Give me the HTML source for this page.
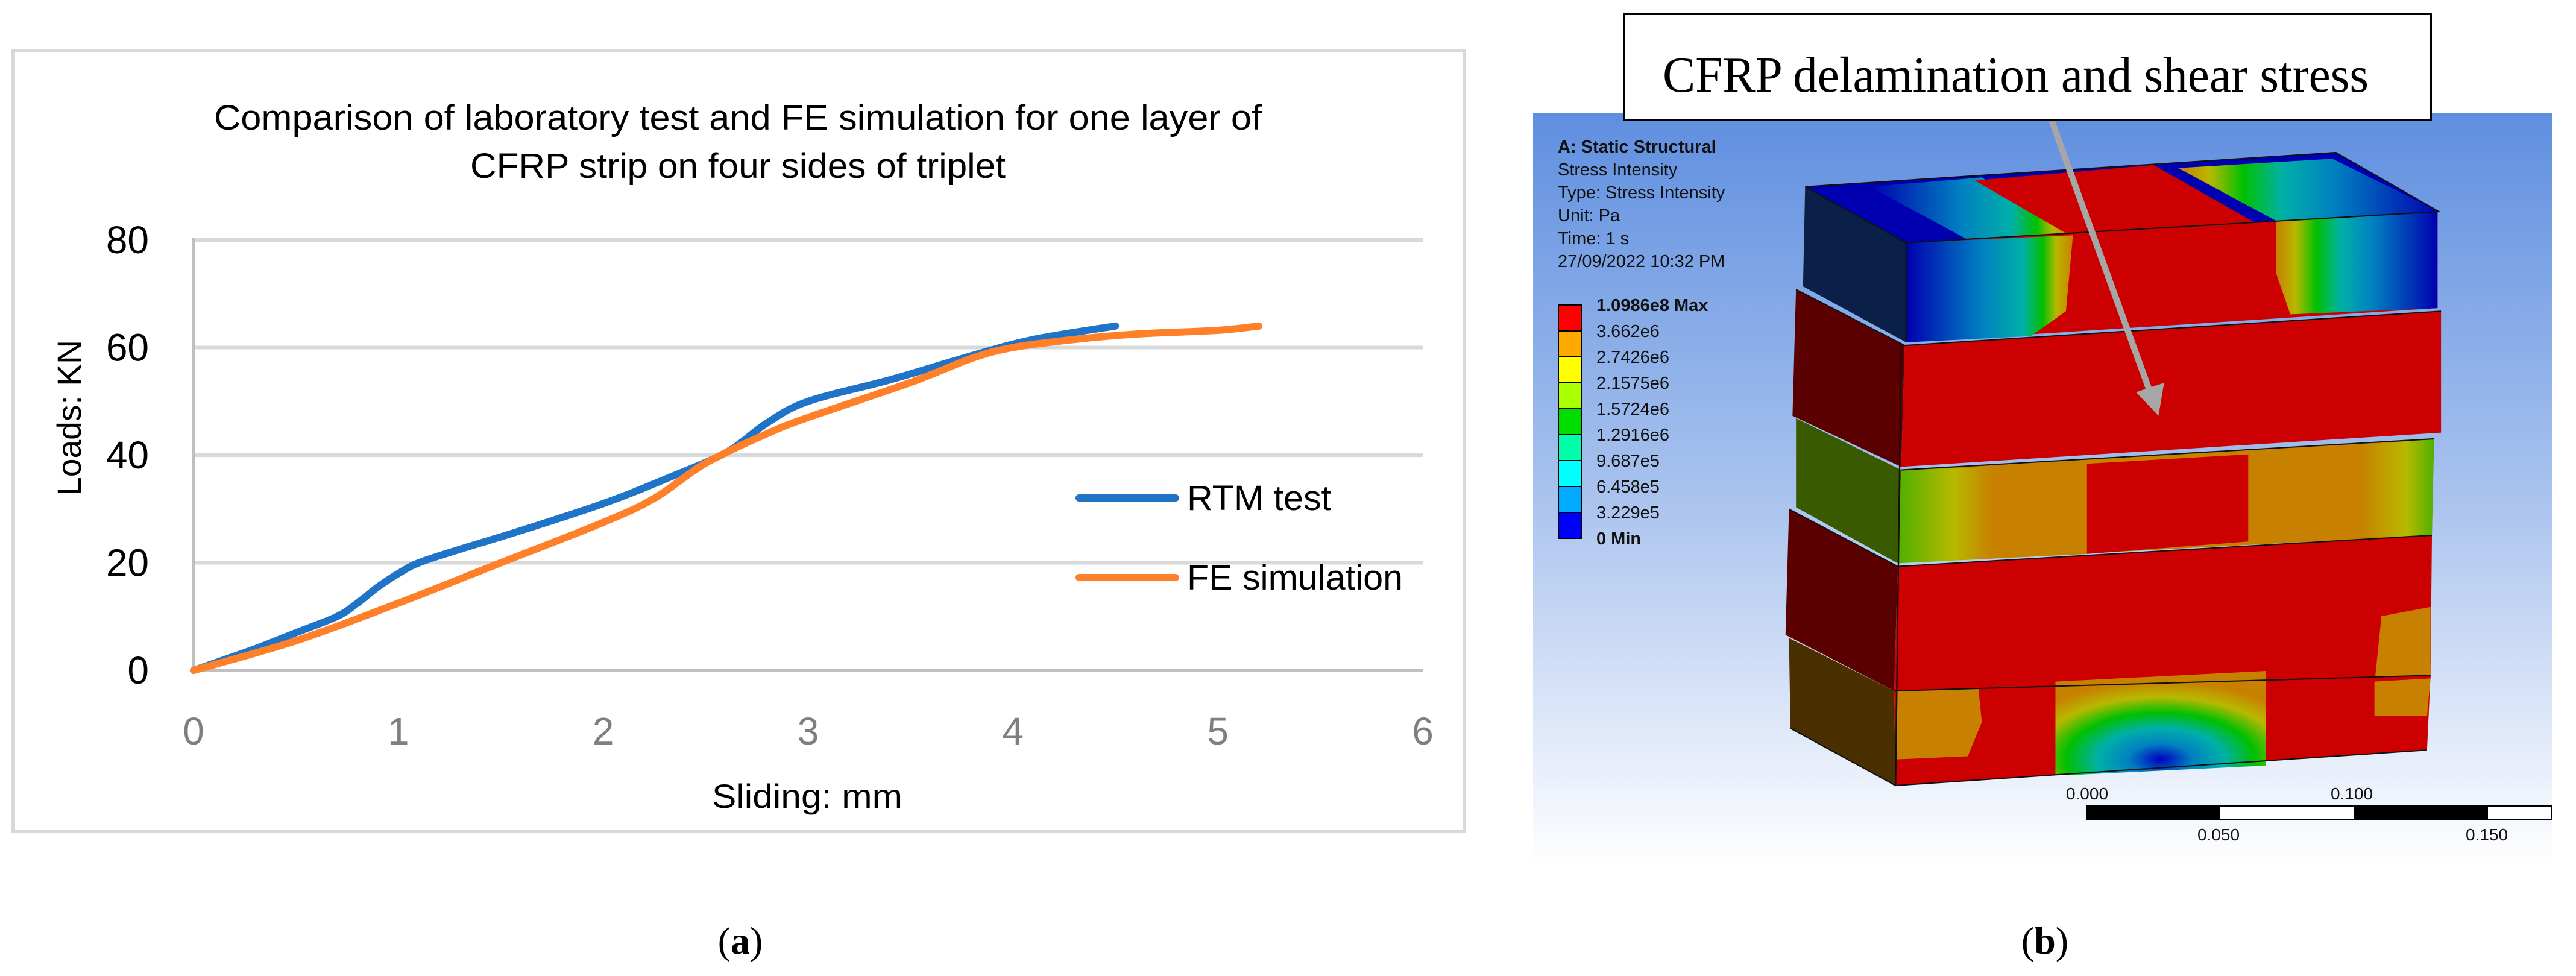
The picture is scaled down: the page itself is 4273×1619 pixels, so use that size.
<!DOCTYPE html>
<html><head><meta charset="utf-8">
<style>
html,body{margin:0;padding:0;background:#fff;}
svg{display:block;}
text{font-family:"Liberation Sans",sans-serif;}
.tm{font-family:"Liberation Serif",serif;}
</style></head>
<body>
<svg id="fig" width="4273" height="1619" viewBox="0 0 4273 1619" xmlns="http://www.w3.org/2000/svg">
<defs>
<linearGradient id="bg" x1="0" y1="0" x2="0" y2="1">
<stop offset="0" stop-color="#5f8fe0"/><stop offset="0.5" stop-color="#a8c2ee"/><stop offset="1" stop-color="#ffffff"/>
</linearGradient>
<linearGradient id="topL" x1="0" y1="0" x2="1" y2="0">
<stop offset="0" stop-color="#0000b0"/><stop offset="0.45" stop-color="#0080c0"/><stop offset="0.7" stop-color="#00b0a8"/><stop offset="0.82" stop-color="#00c000"/><stop offset="0.9" stop-color="#b8b800"/><stop offset="1" stop-color="#c88000"/>
</linearGradient>
<linearGradient id="topR" x1="1" y1="0" x2="0" y2="0">
<stop offset="0" stop-color="#0000b0"/><stop offset="0.4" stop-color="#0080c0"/><stop offset="0.6" stop-color="#00b0a8"/><stop offset="0.75" stop-color="#00c000"/><stop offset="0.88" stop-color="#b8b800"/><stop offset="1" stop-color="#c88000"/>
</linearGradient>
<linearGradient id="midL" x1="0" y1="0" x2="1" y2="0">
<stop offset="0" stop-color="#50b000"/><stop offset="0.3" stop-color="#b8b800"/><stop offset="0.5" stop-color="#c88000"/><stop offset="1" stop-color="#c88000"/>
</linearGradient>
<linearGradient id="midR" x1="0" y1="0" x2="1" y2="0">
<stop offset="0" stop-color="#c88000"/><stop offset="0.6" stop-color="#c88000"/><stop offset="0.85" stop-color="#b8b800"/><stop offset="1" stop-color="#50b000"/>
</linearGradient>
<radialGradient id="hole" cx="0.5" cy="0.85" r="0.75">
<stop offset="0" stop-color="#0000c0"/><stop offset="0.2" stop-color="#0080c0"/><stop offset="0.4" stop-color="#00b0a8"/><stop offset="0.6" stop-color="#00c000"/><stop offset="0.8" stop-color="#b8b800"/><stop offset="1" stop-color="#c88000"/>
</radialGradient>
</defs>

<!-- ============ Panel (a): chart ============ -->
<g id="chart">
<rect x="22" y="84" width="2407" height="1295" fill="#fff" stroke="#d9d9d9" stroke-width="6"/>
<text x="1224" y="215" font-size="58" text-anchor="middle" textLength="1738" lengthAdjust="spacingAndGlyphs">Comparison of laboratory test and FE simulation for one layer of</text>
<text x="1224" y="295" font-size="58" text-anchor="middle" textLength="888" lengthAdjust="spacingAndGlyphs">CFRP strip on four sides of triplet</text>
<g id="grid"></g>
<g id="yticks"></g>
<g id="xticks"></g>
<g id="series"></g>
<text transform="translate(134,693) rotate(-90)" font-size="56" text-anchor="middle" textLength="258" lengthAdjust="spacingAndGlyphs">Loads: KN</text>
<text x="1339" y="1340" font-size="56" text-anchor="middle" textLength="316" lengthAdjust="spacingAndGlyphs">Sliding: mm</text>
<g>
<line x1="1790" y1="826" x2="1950" y2="826" stroke="#1f74c8" stroke-width="12" stroke-linecap="round"/>
<text x="1969" y="846" font-size="58" textLength="239" lengthAdjust="spacingAndGlyphs">RTM test</text>
<line x1="1790" y1="958" x2="1950" y2="958" stroke="#ff8029" stroke-width="12" stroke-linecap="round"/>
<text x="1969" y="978" font-size="58" textLength="358" lengthAdjust="spacingAndGlyphs">FE simulation</text>
</g>
</g>
<text class="tm" x="1228" y="1582" font-size="64" text-anchor="middle">(<tspan font-weight="bold">a</tspan>)</text>

<!-- ============ Panel (b): FE contour image ============ -->
<g>
<rect x="2543" y="188" width="1690" height="1250" fill="url(#bg)"/>
<g transform="translate(2450,0) scale(1.163,1.0325)">
 <!-- top block -->
 <polygon points="468,300 1225,245 1372,340 612,390" fill="#0000b0"/>
 <polygon points="560,300 720,285 850,378 700,385" fill="url(#topL)"/>
 <polygon points="1000,270 1220,255 1372,340 1140,355" fill="url(#topR)"/>
 <polygon points="710,290 965,265 1110,358 845,378" fill="#cc0000"/>
 <polygon points="468,300 612,390 612,550 465,460" fill="#0a2048"/>
 <polygon points="612,390 1370,340 1370,495 612,550" fill="#cc0000"/>
 <polygon points="612,390 850,378 840,500 790,540 612,550" fill="url(#topL)"/>
 <polygon points="1140,355 1370,340 1370,495 1160,505 1140,440" fill="url(#topR)"/>
 <polyline points="468,300 1225,245 1372,340 612,390 468,300" fill="none" stroke="#111" stroke-width="2"/>
 <line x1="612" y1="390" x2="612" y2="550" stroke="#111" stroke-width="2"/>
 <!-- layer 1 red -->
 <polygon points="455,465 610,555 605,750 450,668" fill="#5a0000"/>
 <polygon points="610,555 1375,500 1375,695 605,750" fill="#cc0000"/>
 <!-- layer 2 mixed -->
 <polygon points="455,672 605,755 600,905 455,815" fill="#3a5a00"/>
 <polygon points="605,755 1365,705 1362,860 600,905" fill="#c88000"/>
 <polygon points="605,755 870,745 870,890 600,905" fill="url(#midL)"/>
 <polygon points="1100,730 1365,705 1362,860 1100,870" fill="url(#midR)"/>
 <polygon points="870,745 1100,730 1100,870 870,890" fill="#cc0000"/>
 <!-- layer 3 red -->
 <polygon points="445,818 600,910 595,1110 440,1020" fill="#5a0000"/>
 <polygon points="600,910 1362,860 1360,1090 595,1110" fill="#cc0000"/>
 <polygon points="1290,990 1360,975 1360,1090 1280,1100" fill="#c88000"/>
 <!-- bottom layer -->
 <polygon points="445,1025 595,1110 597,1262 447,1170" fill="#4a3000"/>
 <polygon points="595,1110 1360,1085 1355,1205 597,1262" fill="#cc0000"/>
 <polygon points="598,1110 715,1105 720,1160 700,1215 598,1220" fill="#c88000"/>
 <polygon points="1280,1095 1360,1090 1355,1150 1280,1150" fill="#c88000"/>
 <polygon points="825,1095 1125,1078 1125,1230 850,1245 825,1245" fill="url(#hole)"/>
 <!-- edges -->
 <g stroke="#111" stroke-width="2" fill="none">
  <polyline points="455,465 610,555 1375,500"/><polyline points="605,755 1365,705"/>
  <polyline points="445,818 600,910 1362,860"/><polyline points="595,1110 1360,1085"/>
  <polyline points="447,1170 597,1262 1355,1205"/><line x1="605" y1="555" x2="597" y2="1262"/>
 </g>
</g>
<!-- arrow -->
<g transform="translate(2450,0) scale(1.163,1.0325)">
 <line x1="820" y1="195" x2="960" y2="630" stroke="#a6a6a6" stroke-width="9"/>
 <polygon points="940,630 980,615 972,668" fill="#a6a6a6"/>
</g>
<!-- result info -->
<g font-size="29" fill="#111">
 <text x="2584" y="253" font-weight="bold">A: Static Structural</text>
 <text x="2584" y="291">Stress Intensity</text>
 <text x="2584" y="329">Type: Stress Intensity</text>
 <text x="2584" y="367">Unit: Pa</text>
 <text x="2584" y="405">Time: 1 s</text>
 <text x="2584" y="443">27/09/2022 10:32 PM</text>
</g>
<g id="colorbar"></g>
<!-- scale bar -->
<g>
 <rect x="3462" y="1337" width="771" height="22" fill="#fff" stroke="#000" stroke-width="2"/>
 <rect x="3462" y="1337" width="220" height="22" fill="#000"/>
 <rect x="3904" y="1337" width="223" height="22" fill="#000"/>
 <g font-size="28" text-anchor="middle" fill="#111">
  <text x="3462" y="1326">0.000</text><text x="3901" y="1326">0.100</text>
  <text x="3680" y="1394">0.050</text><text x="4125" y="1394">0.150</text>
 </g>
</g>
<!-- callout box -->
<rect x="2694" y="23" width="1338" height="176" fill="#fff" stroke="#000" stroke-width="4"/>
<text class="tm" x="2758" y="152" font-size="84" textLength="1171" lengthAdjust="spacingAndGlyphs">CFRP delamination and shear stress</text>
</g>
<text class="tm" x="3392" y="1582" font-size="64" text-anchor="middle">(<tspan font-weight="bold">b</tspan>)</text>
</svg>

<script>
const xTicks = [0, 1, 2, 3, 4, 5, 6];
const yTicks = [0, 20, 40, 60, 80];
const rtmX = [0, 0.3, 0.5, 0.7, 0.8, 0.9, 1.0, 1.1, 1.3, 1.6, 2.0, 2.3, 2.6, 2.8, 3.0, 3.4, 3.8, 4.1, 4.5];
const rtmY = [0, 4, 7, 10, 12.5, 15.5, 18, 20, 22.5, 26, 31, 35.5, 40.5, 46, 50, 54, 58.5, 61.5, 64];
const feX = [0, 0.5, 1.0, 1.5, 2.0, 2.25, 2.5, 2.8, 3.0, 3.5, 3.8, 4.0, 4.3, 4.6, 5.0, 5.2];
const feY = [0, 5.5, 12.5, 20, 27.5, 32, 38.5, 44, 47, 53.5, 58, 60, 61.5, 62.5, 63.2, 64];
const cbLabels = ["1.0986e8 Max","3.662e6","2.7426e6","2.1575e6","1.5724e6","1.2916e6","9.687e5","6.458e5","3.229e5","0 Min"];
const cbColors = ["#ff0000","#ffaa00","#ffff00","#aaff00","#00dd00","#00ffaa","#00ffff","#00aaff","#0000ff"];

const NS = "http://www.w3.org/2000/svg";
const X0 = 321, X1 = 2360, Y0 = 1112, Y1 = 398;
const sx = v => X0 + (v - 0) / 6 * (X1 - X0);
const sy = v => Y0 - v / 80 * (Y0 - Y1);
function mk(tag, attrs, parent) {
  const e = document.createElementNS(NS, tag);
  for (const k in attrs) e.setAttribute(k, attrs[k]);
  parent.appendChild(e);
  return e;
}
const grid = document.getElementById('grid');
const yt = document.getElementById('yticks');
const xt = document.getElementById('xticks');
const ser = document.getElementById('series');

yTicks.forEach(v => {
  const l = mk('line', {x1: X0, x2: X1, y1: sy(v), y2: sy(v), stroke: v === 0 ? '#bfbfbf' : '#d9d9d9', 'stroke-width': 6}, grid);
  
  
  const t = mk('text', {x: 247, y: sy(v) + 22, 'font-size': 64, 'text-anchor': 'end', fill: '#000'}, yt);
  t.textContent = v;
  
  
});
const ax = mk('line', {x1: X0, x2: X0, y1: Y1 - 3, y2: Y0, stroke: '#bfbfbf', 'stroke-width': 6}, grid);


xTicks.forEach(v => {
  const t = mk('text', {x: sx(v), y: 1235, 'font-size': 64, 'text-anchor': 'middle', fill: '#7f7f7f'}, xt);
  t.textContent = v;
  
  
});
function smoothPath(xs, ys) {
  const p = xs.map((x, i) => [sx(x), sy(ys[i])]);
  let d = 'M' + p[0][0] + ',' + p[0][1];
  for (let i = 0; i < p.length - 1; i++) {
    const a = p[i - 1] || p[i], b = p[i], c = p[i + 1], e = p[i + 2] || c;
    const c1 = [b[0] + (c[0] - a[0]) / 6, b[1] + (c[1] - a[1]) / 6];
    const c2 = [c[0] - (e[0] - b[0]) / 6, c[1] - (e[1] - b[1]) / 6];
    d += ' C' + c1 + ' ' + c2 + ' ' + c;
  }
  return d;
}
const lineFE = mk('path', {d: smoothPath(feX, feY), fill: 'none', stroke: '#ff8029', 'stroke-width': 12, 'stroke-linecap': 'round', 'stroke-linejoin': 'round'}, ser);


const lineRTM = mk('path', {d: smoothPath(rtmX, rtmY), fill: 'none', stroke: '#1f74c8', 'stroke-width': 12, 'stroke-linecap': 'round', 'stroke-linejoin': 'round'}, ser);


ser.insertBefore(lineRTM, lineFE);

const cb = document.getElementById('colorbar');
const cbTop = 506, cbH = 387 / cbColors.length;
cbColors.forEach((c, i) => {
  const r = mk('rect', {x: 2585, y: cbTop + i * cbH, width: 38, height: cbH, fill: c, stroke: '#000', 'stroke-width': 2}, cb);
  
  
});
cbLabels.forEach((s, i) => {
  const t = mk('text', {x: 2648, y: cbTop + i * cbH + 10, 'font-size': 29, fill: '#111', 'font-weight': (i === 0 || i === cbLabels.length - 1) ? 'bold' : 'normal'}, cb);
  t.textContent = s;
  
  
});
</script>
</body></html>
